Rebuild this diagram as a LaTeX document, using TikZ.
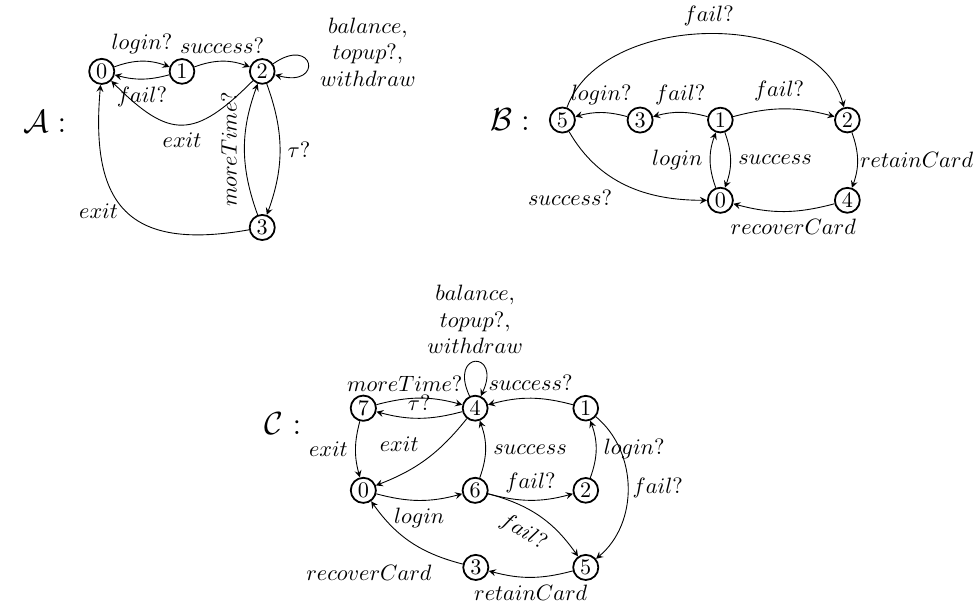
\documentclass[tikz,border=0pt]{standalone}
\usepackage{amsmath}
\usepackage{amssymb}
\usepackage{tikz}
\usetikzlibrary{arrows, positioning}

\begin{document}
\begin{tikzpicture}[>=stealth, loc/.style={draw, circle, thick, inner sep=1pt}]
\useasboundingbox (0,0) rectangle (15.43,9.66);

% Automaton A
\node[loc] (a0) at (1.61,8.53) {0};
\node[loc] (a1) at (2.88,8.53) {1};
\node[loc] (a2) at (4.15,8.53) {2};
\node[loc] (a3) at (4.15,6.06) {3};
\node (aname) at (0.71,7.73) {\Large $\mathcal{A}:$};

\draw[->] (a0) to[bend left=20] node[above] {$login?$} (a1);
\draw[->] (a1) to[bend left=15] node[below] {$fail?$} (a0);
\draw[->] (a1) to[bend left=20] node[above] {$success?$} (a2);
\draw[->] (a2) to[out=35, in=-15, looseness=8, min distance=8mm] node[right=2pt, yshift=5pt, align=center] {$balance,$\\$topup?,$\\$withdraw$} (a2);
\draw[->] (a2) to[out=-135, in=-45, looseness=1.5] node[below] {$exit$} (a0);
\draw[->] (a2) to[bend left=20] node[right] {$\tau?$} (a3);
\draw[->] (a3) to[bend left=20] node[sloped, above] {$moreTime?$} (a2);
\draw[->] (a3) to[out=190, in=-95, looseness=1.5] node[pos=0.5, left] {$exit$} (a0);

% Automaton B
\node[loc] (b5) at (8.90,7.76) {5};
\node[loc] (b3) at (10.13,7.76) {3};
\node[loc] (b1) at (11.40,7.76) {1};
\node[loc] (b2) at (13.41,7.76) {2};
\node[loc] (b0) at (11.40,6.49) {0};
\node[loc] (b4) at (13.41,6.49) {4};
\node (bname) at (8.07,7.76) {\Large $\mathcal{B}:$};

\draw[->] (b1) to[bend right=15] node[above] {$fail?$} (b3);
\draw[->] (b3) to[bend right=15] node[above] {$login?$} (b5);
\draw[->] (b1) to[bend left=15] node[pos=0.45, above] {$fail?$} (b2);
\draw[->] (b5) to[out=70, in=105, looseness=0.95] node[above] {$fail?$} (b2);
\draw[->] (b5) to[out=-60, in=180] node[pos=0.45, below left] {$success?$} (b0);
\draw[->] (b0) to[bend left=20] node[left] {$login$} (b1);
\draw[->] (b1) to[bend left=20] node[right] {$success$} (b0);
\draw[->] (b2) to[bend left=20] node[right, inner sep=1pt] {$retainCard$} (b4);
\draw[->] (b4) to[bend left=15] node[pos=0.4, below] {$recoverCard$} (b0);

% Automaton C
\node[loc] (c7) at (5.75,3.20) {7};
\node[loc] (c4) at (7.52,3.20) {4};
\node[loc] (c1) at (9.27,3.20) {1};
\node[loc] (c0) at (5.75,1.90) {0};
\node[loc] (c6) at (7.52,1.90) {6};
\node[loc] (c2) at (9.27,1.90) {2};
\node[loc] (c3) at (7.53,0.68) {3};
\node[loc] (c5) at (9.27,0.68) {5};
\node (cname) at (4.48,2.96) {\Large $\mathcal{C}:$};

\draw[->] (c4) to[out=115, in=65, looseness=8, min distance=8mm] node[above, align=center] {$balance,$\\$topup?,$\\$withdraw$} (c4);
\draw[->] (c7) to[bend left=15] node[pos=0.32, above] {$moreTime?$} (c4);
\draw[->] (c4) to[bend left=15] node[above] {$\tau?$} (c7);
\draw[->] (c1) to[bend right=15] node[above] {$success?$} (c4);
\draw[->] (c7) to[bend right=15] node[left] {$exit$} (c0);
\draw[->] (c4) to[bend left=15] node[above left] {$exit$} (c0);
\draw[->] (c6) to[bend right=20] node[right] {$success$} (c4);
\draw[->] (c2) to[bend right=20] node[right] {$login?$} (c1);
\draw[->] (c1) to[bend left=50] node[right, inner sep=2pt] {$fail?$} (c5);
\draw[->] (c0) to[bend right=15] node[below] {$login$} (c6);
\draw[->] (c6) to[bend right=15] node[above] {$fail?$} (c2);
\draw[->] (c6) to[bend left=20] node[pos=0.45, sloped, below=2pt] {$fail?$} (c5);
\draw[->] (c5) to[bend left=15] node[below] {$retainCard$} (c3);
\draw[->] (c3) to[bend left=20] node[pos=0.2, below left] {$recoverCard$} (c0);
\end{tikzpicture}
\end{document}
